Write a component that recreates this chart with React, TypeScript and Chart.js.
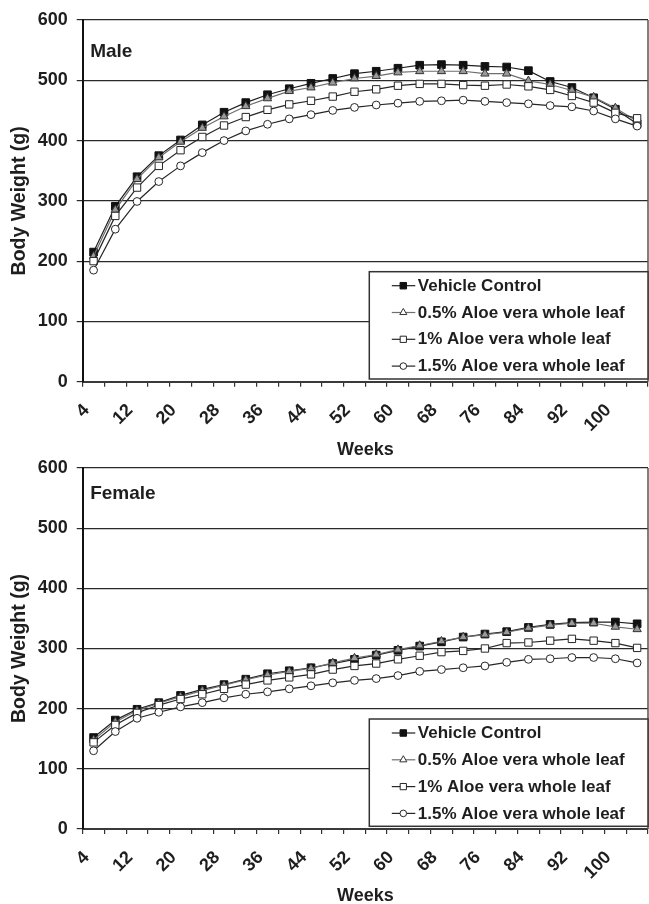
import React, { useEffect, useRef } from 'react';
import { Chart, registerables } from 'chart.js';

Chart.register(...registerables);

// ---------- data ----------
const weeks = [4, 8, 12, 16, 20, 24, 28, 32, 36, 40, 44, 48, 52, 56, 60, 64, 68, 72, 76, 80, 84, 88, 92, 96, 100, 104];
const seriesNames = [
  'Vehicle Control',
  '0.5% Aloe vera whole leaf',
  '1% Aloe vera whole leaf',
  '1.5% Aloe vera whole leaf',
];
const yTicks = [0, 100, 200, 300, 400, 500, 600];

const maleVehicle = [215, 291, 340, 375, 401, 426, 447, 463, 476, 486, 495, 503, 511, 515, 520, 525, 526, 525, 523, 522, 516, 498, 488, 471, 452, 428];
const maleAloe05 = [208, 285, 336, 372, 398, 421, 440, 457, 470, 482, 488, 496, 503, 507, 513, 515, 515, 515, 511, 511, 499, 493, 483, 472, 454, 432];
const maleAloe1 = [200, 275, 322, 358, 384, 406, 425, 439, 451, 460, 466, 473, 481, 485, 491, 494, 494, 492, 491, 493, 490, 484, 474, 463, 446, 437];
const maleAloe15 = [185, 253, 299, 332, 358, 380, 400, 416, 427, 436, 443, 450, 455, 459, 462, 465, 466, 467, 465, 463, 461, 458, 456, 449, 436, 424];

const femaleVehicle = [152, 181, 199, 210, 222, 232, 240, 249, 258, 263, 268, 275, 282, 289, 297, 304, 311, 319, 324, 328, 335, 340, 343, 344, 344, 341];
const femaleAloe05 = [148, 178, 197, 209, 220, 230, 239, 248, 256, 262, 267, 276, 284, 290, 298, 305, 312, 319, 323, 327, 334, 339, 342, 342, 336, 332];
const femaleAloe1 = [144, 173, 193, 206, 216, 224, 233, 240, 247, 252, 257, 265, 271, 275, 282, 288, 294, 296, 300, 309, 310, 313, 316, 313, 309, 301];
const femaleAloe15 = [130, 162, 184, 194, 203, 210, 218, 224, 228, 233, 238, 243, 247, 250, 255, 262, 265, 268, 271, 277, 282, 283, 285, 285, 283, 276];

// ---------- styles ----------
const FONT = '"Liberation Sans", Arial, Helvetica, sans-serif';
const INK = '#1e1e1e';
Chart.defaults.font.family = FONT;

const seriesStyles = [
  { shape: 'rect', radius: 5.4, fill: '#111111', stroke: '#111111', line: '#1e1e1e' },
  { shape: 'triangle', radius: 4.8, fill: '#9a9a9a', stroke: '#333333', line: '#6e6e6e' },
  { shape: 'rect', radius: 5.2, fill: '#ffffff', stroke: '#262626', line: '#262626' },
  { shape: 'circle', radius: 3.9, fill: '#ffffff', stroke: '#262626', line: '#262626' },
];

function drawMarker(ctx: CanvasRenderingContext2D, shape: string, x: number, y: number, r: number, fill: string, stroke: string) {
  ctx.beginPath();
  if (shape === 'rect') {
    const s = Math.SQRT1_2 * r;
    ctx.rect(x - s, y - s, 2 * s, 2 * s);
  } else if (shape === 'triangle') {
    let rad = 0;
    ctx.moveTo(x + Math.sin(rad) * r, y - Math.cos(rad) * r);
    rad += (2 * Math.PI) / 3;
    ctx.lineTo(x + Math.sin(rad) * r, y - Math.cos(rad) * r);
    rad += (2 * Math.PI) / 3;
    ctx.lineTo(x + Math.sin(rad) * r, y - Math.cos(rad) * r);
    ctx.closePath();
  } else {
    ctx.arc(x, y, r, 0, Math.PI * 2);
  }
  ctx.fillStyle = fill;
  ctx.fill();
  ctx.lineWidth = 1;
  ctx.strokeStyle = stroke;
  ctx.stroke();
}

type PanelProps = {
  top: number;
  height: number;
  label: string;
  labelDy: number;
  padTop: number;
  xHeight: number;
  titlePad: number;
  series: number[][];
};

function Panel({ top, height, label, labelDy, padTop, xHeight, titlePad, series }: PanelProps) {
  const ref = useRef<HTMLCanvasElement>(null);

  useEffect(() => {
    if (!ref.current) return;

    const framePlugin = {
      id: 'frameAndLabel',
      beforeDatasetsDraw(chart: any) {
        const { ctx, chartArea } = chart;
        ctx.save();
        ctx.strokeStyle = '#555555';
        ctx.lineWidth = 1.5;
        ctx.beginPath();
        ctx.moveTo(chartArea.right, chartArea.top);
        ctx.lineTo(chartArea.right, chartArea.bottom);
        ctx.stroke();
        ctx.fillStyle = INK;
        ctx.font = `bold 19px ${FONT}`;
        ctx.textBaseline = 'alphabetic';
        ctx.textAlign = 'left';
        ctx.fillText(label, chartArea.left + 7.5, chartArea.top + labelDy);
        ctx.restore();
      },
      afterDatasetsDraw(chart: any) {
        const { ctx, chartArea } = chart;
        const left = chartArea.right - 278.7;
        const boxTop = chartArea.bottom - 110;
        const boxBottom = chartArea.bottom - 2.7;
        ctx.save();
        ctx.fillStyle = '#ffffff';
        ctx.fillRect(left, boxTop, chartArea.right - left, boxBottom - boxTop);
        ctx.strokeStyle = '#333333';
        ctx.lineWidth = 1.5;
        ctx.strokeRect(left, boxTop, chartArea.right - left, boxBottom - boxTop);
        chart.data.datasets.forEach((ds: any, i: number) => {
          const st = seriesStyles[i];
          const cy = boxTop + 14 + i * 26.8;
          ctx.strokeStyle = st.line;
          ctx.lineWidth = 1.2;
          ctx.beginPath();
          ctx.moveTo(left + 22.5, cy);
          ctx.lineTo(left + 46, cy);
          ctx.stroke();
          drawMarker(ctx, st.shape, left + 34, cy, st.radius * 0.85, i === 1 ? '#ffffff' : st.fill, st.stroke);
          ctx.fillStyle = INK;
          ctx.font = `bold 17px ${FONT}`;
          ctx.textBaseline = 'middle';
          ctx.textAlign = 'left';
          ctx.fillText(ds.label, left + 48.5, cy + 0.5);
        });
        ctx.restore();
      },
    };

    const chart = new Chart(ref.current, {
      type: 'line',
      data: {
        labels: weeks.map(String),
        datasets: series.map((values, i) => {
          const st = seriesStyles[i];
          return {
            label: seriesNames[i],
            data: values,
            borderColor: st.line,
            borderWidth: 1.2,
            pointStyle: st.shape,
            pointRadius: st.radius,
            pointBackgroundColor: st.fill,
            pointBorderColor: st.stroke,
            pointBorderWidth: 1,
            tension: 0,
            fill: false,
            clip: false,
            order: 4 - i,
          };
        }),
      },
      options: {
        animation: false,
        responsive: false,
        events: [],
        layout: { autoPadding: false, padding: { top: padTop, right: 1, left: 0, bottom: 0 } },
        plugins: {
          legend: { display: false },
          tooltip: { enabled: false },
          title: { display: false },
        },
        scales: {
          x: {
            type: 'category',
            offset: true,
            grid: {
              display: true,
              drawOnChartArea: false,
              drawTicks: true,
              tickLength: 5,
              color: '#333333',
              lineWidth: 1.2,
              offset: true,
            },
            border: { display: true, color: '#3a3a3a', width: 2 },
            ticks: {
              autoSkip: false,
              minRotation: 45,
              maxRotation: 45,
              padding: 13,
              labelOffset: -7,
              color: INK,
              font: { size: 18, weight: 'bold' },
              callback: (_v: any, i: number) => (i % 2 === 0 && i < weeks.length - 1 ? String(weeks[i]) : ''),
            },
            title: {
              display: true,
              text: 'Weeks',
              color: INK,
              font: { size: 18, weight: 'bold' },
              padding: { top: 0, bottom: titlePad },
            },
            afterFit: (s: any) => {
              s.height = xHeight;
              s.paddingLeft = 0;
              s.paddingRight = 0;
            },
          },
          y: {
            min: 0,
            max: 600,
            afterBuildTicks: (s: any) => {
              s.ticks = yTicks.map((v) => ({ value: v }));
            },
            grid: {
              color: '#2a2a2a',
              lineWidth: 1.2,
              tickLength: 6,
              drawTicks: true,
            },
            border: { display: true, color: '#111111', width: 2 },
            ticks: {
              padding: 9,
              color: INK,
              font: { size: 18, weight: 'bold' },
            },
            title: {
              display: true,
              text: 'Body Weight (g)',
              color: INK,
              font: { size: 19.5, weight: 'bold' },
              padding: { top: 8, bottom: 0 },
            },
            afterFit: (s: any) => {
              s.width = 82.7;
            },
          },
        },
      },
      plugins: [framePlugin],
    } as any);

    return () => chart.destroy();
  }, []);

  return (
    <canvas
      ref={ref}
      width={649}
      height={height}
      style={{ position: 'absolute', left: 0, top, width: 649, height, display: 'block' }}
    />
  );
}

export default function App() {
  return (
    <div
      style={{
        position: 'absolute',
        left: 0,
        top: 0,
        width: 649,
        height: 904,
        overflow: 'hidden',
        background: '#ffffff',
      }}
    >
      <Panel
        top={0}
        height={462}
        label="Male"
        labelDy={37}
        padTop={20}
        xHeight={80.3}
        titlePad={1.2}
        series={[maleVehicle, maleAloe05, maleAloe1, maleAloe15]}
      />
      <Panel
        top={447}
        height={460}
        label="Female"
        labelDy={31}
        padTop={21}
        xHeight={78}
        titlePad={0}
        series={[femaleVehicle, femaleAloe05, femaleAloe1, femaleAloe15]}
      />
    </div>
  );
}
